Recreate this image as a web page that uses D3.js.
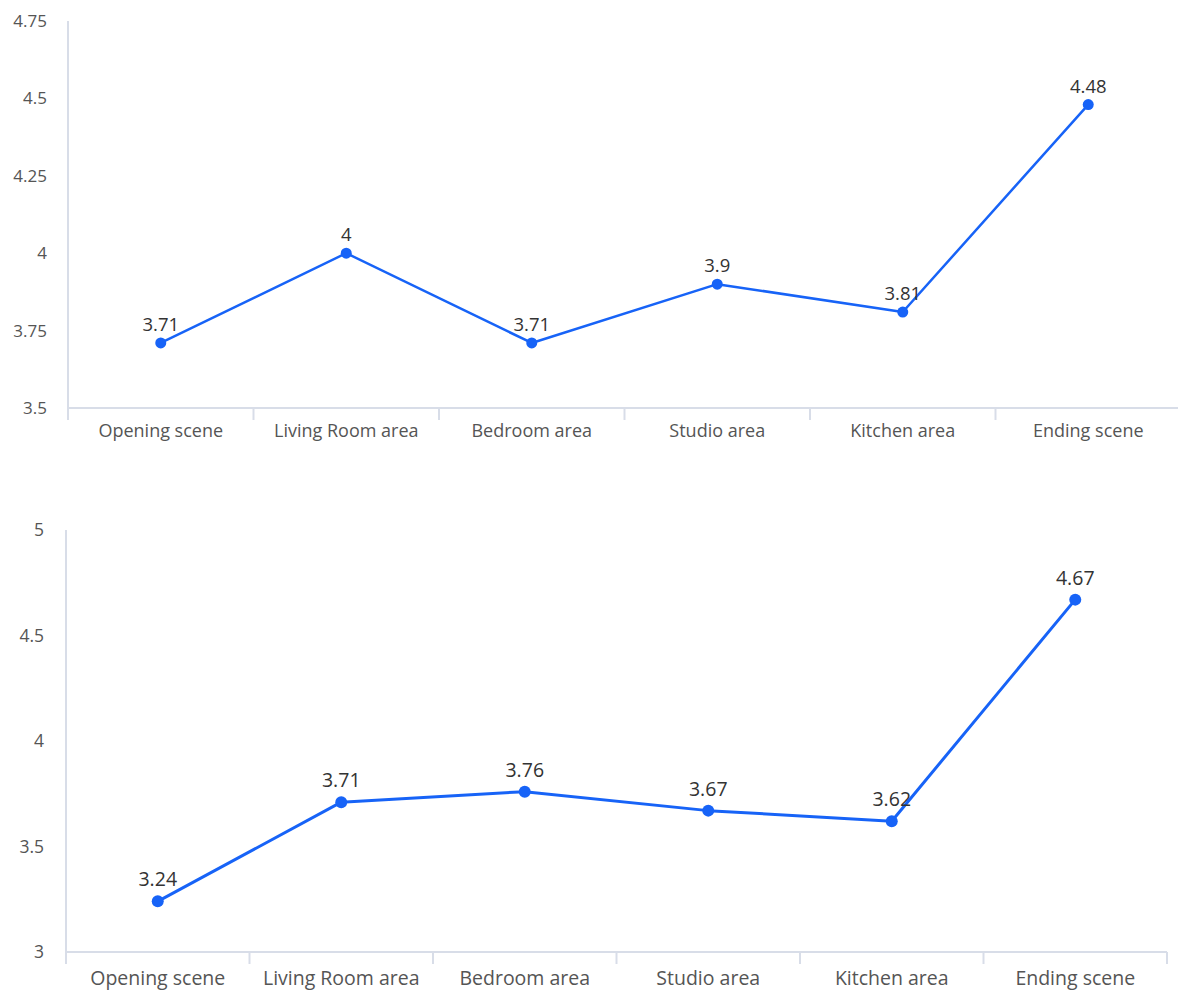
<!DOCTYPE html>
<html>
<head>
<meta charset="utf-8">
<script src="https://cdn.jsdelivr.net/npm/d3@7"></script>
<style>
  html, body { margin: 0; padding: 0; background: #fff; }
  svg { display: block; }
  text { font-family: "Open Sans", "Noto Sans", sans-serif; }
</style>
</head>
<body>
<svg id="chart" width="1178" height="990"></svg>
<script>
// Scene categories shared by both panels
const categories = ["Opening scene", "Living Room area", "Bedroom area", "Studio area", "Kitchen area", "Ending scene"];

// Upper panel scores
const scoresTop = [3.71, 4, 3.71, 3.9, 3.81, 4.48];
const ticksTop = [3.5, 3.75, 4, 4.25, 4.5, 4.75];

// Lower panel scores
const scoresBottom = [3.24, 3.71, 3.76, 3.67, 3.62, 4.67];
const ticksBottom = [3, 3.5, 4, 4.5, 5];

const svg = d3.select("#chart");
const lineColor = "#1763f7";
const axisColor = "#d8dde8";

function drawPanel(cfg) {
  const g = svg.append("g");
  const x = d3.scaleBand().domain(categories).range([cfg.left, cfg.right]);
  const y = d3.scaleLinear().domain([cfg.ticks[0], cfg.ticks[cfg.ticks.length - 1]]).range([cfg.bottom, cfg.top]);

  // Y axis: vertical line plus tick labels
  const yAxis = d3.axisLeft(y).tickValues(cfg.ticks).tickSize(0).tickPadding(cfg.yPad)
    .tickFormat(d => d3.format("~g")(d));
  const ya = g.append("g").attr("transform", `translate(${cfg.left},0)`).call(yAxis);
  ya.select(".domain").attr("stroke", axisColor).attr("stroke-width", 2)
    .attr("d", `M0,${cfg.top}V${cfg.bottom + 12}`);
  ya.selectAll(".tick text").attr("fill", "#555").attr("font-size", cfg.yFont);

  // X axis: baseline, category separators, labels
  const xAxis = d3.axisBottom(x).tickSize(0).tickPadding(cfg.xPad);
  const xa = g.append("g").attr("transform", `translate(0,${cfg.bottom})`).call(xAxis);
  xa.select(".domain").attr("stroke", axisColor).attr("stroke-width", 2)
    .attr("d", `M${cfg.left},0H${cfg.right}`);
  xa.selectAll(".tick text").attr("fill", "#555").attr("font-size", cfg.xFont);
  const bounds = categories.map(c => x(c)).concat([x(categories[categories.length - 1]) + x.bandwidth()]);
  xa.selectAll("line.sep").data(bounds).join("line").attr("class", "sep")
    .attr("x1", d => d).attr("x2", d => d).attr("y1", 0).attr("y2", 12)
    .attr("stroke", axisColor).attr("stroke-width", 2);

  const cx = c => x(c) + x.bandwidth() / 2;
  const pts = categories.map((c, i) => ({ c, v: cfg.values[i] }));

  g.append("path").datum(pts)
    .attr("fill", "none").attr("stroke", lineColor).attr("stroke-width", cfg.lineW)
    .attr("stroke-linejoin", "round")
    .attr("d", d3.line().x(d => cx(d.c)).y(d => y(d.v)));

  g.selectAll("circle.pt").data(pts).join("circle").attr("class", "pt")
    .attr("cx", d => cx(d.c)).attr("cy", d => y(d.v)).attr("r", cfg.r)
    .attr("fill", lineColor);

  g.selectAll("text.val").data(pts).join("text").attr("class", "val")
    .attr("x", d => cx(d.c)).attr("y", d => y(d.v) - cfg.valOff)
    .attr("text-anchor", "middle").attr("fill", "#333").attr("font-size", cfg.valFont)
    .text(d => d3.format("~g")(d.v));
}

drawPanel({ left: 68, right: 1181, top: 21, bottom: 408, values: scoresTop, ticks: ticksTop,
  yPad: 21, yFont: 17, xPad: 16, xFont: 18, valFont: 18.5, valOff: 12, r: 5.5, lineW: 2.5 });
drawPanel({ left: 66, right: 1167, top: 530, bottom: 952, values: scoresBottom, ticks: ticksBottom,
  yPad: 22, yFont: 17.5, xPad: 19, xFont: 19.5, valFont: 19.5, valOff: 15, r: 6, lineW: 3 });
</script>
</body>
</html>
